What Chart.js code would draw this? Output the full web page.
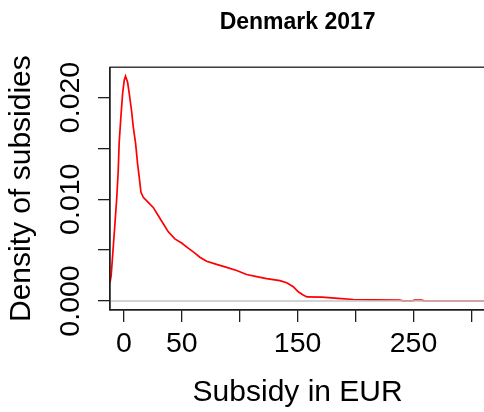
<!DOCTYPE html>
<html>
<head>
<meta charset="utf-8">
<script src="https://cdn.jsdelivr.net/npm/chart.js@4/dist/chart.umd.min.js"></script>
<style>
  html, body { margin: 0; padding: 0; background: #fff; overflow: hidden; }
  #wrap { width: 490px; height: 412px; }
</style>
</head>
<body>
<div id="wrap"><canvas id="c" width="490" height="412"></canvas></div>
<script>
// Kernel density estimate of subsidies received, Denmark 2017
const subsidyEUR = [-12, -11, -9.2, -7.8, -6.3, -4.9, -4.1, -2.6, -1.1, 0.3,
  1.4, 3.2, 4.6, 6.6, 8.1, 10.1, 11.8, 13.2, 14.7, 16.7,
  21, 25.3, 29.6, 34, 38.3, 44, 49.8, 55.5, 61.3, 65.6,
  71.4, 80, 88.7, 97.3, 106, 114.6, 123.2, 134.7, 140.5, 146.2,
  150.5, 154.8, 158, 171, 185, 198, 215, 238, 241, 249,
  251, 257, 259, 312];
const density = [0.0018, 0.0025, 0.0053, 0.0075, 0.0099, 0.0128, 0.0155, 0.0181, 0.0204, 0.0217,
  0.0221, 0.0215, 0.0204, 0.0187, 0.0171, 0.0155, 0.0135, 0.0122, 0.0107, 0.0102,
  0.0097, 0.0092, 0.0084, 0.0076, 0.0068, 0.0061, 0.0057, 0.0052, 0.0047, 0.0043,
  0.0039, 0.0036, 0.0033, 0.0030, 0.0026, 0.0024, 0.0022, 0.0020, 0.0018, 0.0014,
  0.0009, 0.0006, 0.0004, 0.00038, 0.00026, 0.00015, 0.00011, 0.0001, 0.00002, 0.00002,
  0.0001, 0.0001, 0.00001, 0];

// Axis limits (0..300 EUR and 0..max density, each widened by 4%)
const xRange = [-12, 312];
const yRange = [-0.000884, 0.02298];

// Ticks every 50 EUR / 0.005, only some of them labelled
const xTickLabels = ['0', '50', '150', '250'];
const yTickLabels = ['0.000', '0.010', '0.020'];

const FONT = "'Liberation Sans', Arial, Helvetica, sans-serif";
const INK = '#1e1e1e';

// Box around the plotting region
const plotFrame = {
  id: 'plotFrame',
  afterDraw(chart) {
    const { ctx, chartArea: a } = chart;
    ctx.save();
    ctx.strokeStyle = INK;
    ctx.lineWidth = 1.3;
    ctx.strokeRect(a.left, a.top, a.right - a.left, a.bottom - a.top);
    ctx.restore();
  }
};

new Chart(document.getElementById('c'), {
  type: 'line',
  data: {
    datasets: [
      {
        label: 'zero line',
        data: xRange.map(x => ({ x, y: 0 })),
        borderColor: '#c4c4c4',
        borderWidth: 1.6,
        pointRadius: 0,
        order: 0
      },
      {
        label: 'Density of subsidies',
        data: subsidyEUR.map((x, i) => ({ x, y: density[i] })),
        borderColor: '#ff0000',
        borderWidth: 1.7,
        pointRadius: 0,
        tension: 0,
        order: 1
      }
    ]
  },
  options: {
    responsive: false,
    animation: false,
    devicePixelRatio: 1,
    layout: { padding: { left: 0, right: 4.7, top: 0, bottom: 0 } },
    plugins: {
      legend: { display: false },
      tooltip: { enabled: false },
      title: {
        display: true,
        text: 'Denmark 2017',
        fullSize: false,
        color: '#000',
        font: { family: FONT, size: 23, weight: 'bold' },
        padding: { top: 8.7, bottom: 30.9 }
      }
    },
    scales: {
      x: {
        type: 'linear',
        min: xRange[0],
        max: xRange[1],
        ticks: {
          stepSize: 50,
          autoSkip: false,
          includeBounds: false,
          minRotation: 0,
          maxRotation: 0,
          padding: 5.5,
          color: '#000',
          font: { family: FONT, size: 28.5 },
          callback: v => (xTickLabels.includes(String(v)) ? String(v) : '')
        },
        grid: { drawOnChartArea: false, drawTicks: true, tickLength: 12, color: INK, lineWidth: 1.3 },
        border: { display: true, color: INK, width: 1.3 },
        title: {
          display: true,
          text: 'Subsidy in EUR',
          color: '#000',
          font: { family: FONT, size: 30 },
          padding: { top: 0, bottom: 1.4 }
        },
        afterFit: s => { s.height = 102; }
      },
      y: {
        type: 'linear',
        min: yRange[0],
        max: yRange[1],
        ticks: {
          stepSize: 0.005,
          autoSkip: false,
          includeBounds: false,
          minRotation: 90,
          maxRotation: 90,
          padding: 27,
          labelOffset: -35.7,
          color: '#000',
          font: { family: FONT, size: 28.5 },
          callback: v => {
            const s = Number(v).toFixed(3);
            return yTickLabels.includes(s) ? s : '';
          }
        },
        grid: { drawOnChartArea: false, drawTicks: true, tickLength: 12, color: INK, lineWidth: 1.3 },
        border: { display: true, color: INK, width: 1.3 },
        title: {
          display: true,
          text: 'Density of subsidies',
          color: '#000',
          font: { family: FONT, size: 30 },
          padding: { top: 3.6, bottom: 0 }
        },
        afterFit: s => { s.width = 110; }
      }
    }
  },
  plugins: [plotFrame]
});
</script>
</body>
</html>
